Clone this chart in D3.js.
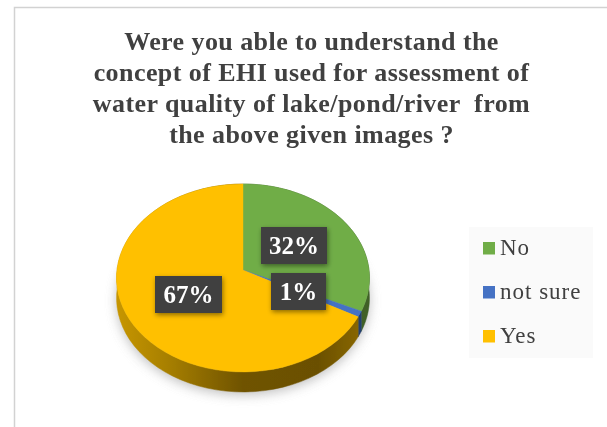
<!DOCTYPE html>
<html><head><meta charset="utf-8">
<script src="https://cdn.jsdelivr.net/npm/d3@7"></script>
<style>html,body{margin:0;background:#fff}svg{display:block}text{font-family:"Liberation Serif",serif}</style>
</head><body><svg id="c" width="607" height="427"></svg>
<script>
const categories = ["No", "not sure", "Yes"];
const values = [32, 1, 67];
const labels = ["32%", "1%", "67%"];
const colors = ["#70ad47", "#4472c4", "#ffc000"];
const titleLines = ["Were you able to understand the", "concept of EHI used for assessment of", "water quality of lake/pond/river  from", "the above given images ?"];

const svg = d3.select("#c");
const defs = svg.append("defs");
defs.append("filter").attr("id","soft").attr("x","-20%").attr("y","-20%").attr("width","140%").attr("height","140%")
  .append("feGaussianBlur").attr("stdDeviation",0.6);
const sh = defs.append("filter").attr("id","shadow").attr("x","-30%").attr("y","-30%").attr("width","160%").attr("height","160%");
sh.append("feGaussianBlur").attr("stdDeviation",6);
const bs = defs.append("filter").attr("id","boxshadow").attr("x","-30%").attr("y","-30%").attr("width","160%").attr("height","160%");
bs.append("feDropShadow").attr("dx",1).attr("dy",2).attr("stdDeviation",2.5).attr("flood-color","#000").attr("flood-opacity",0.45);
const g1 = defs.append("linearGradient").attr("id","sideYes").attr("gradientUnits","userSpaceOnUse")
  .attr("x1",116).attr("x2",369).attr("y1",0).attr("y2",0);
[[0,"#c79600"],[0.2,"#a88000"],[0.5,"#6f5300"],[0.8,"#6b5000"],[1,"#8f6c00"]].forEach(s=>g1.append("stop").attr("offset",s[0]).attr("stop-color",s[1]));
const sideFill = ["#3f6128","#24406f","url(#sideYes)"];

// frame
svg.append("path").attr("d","M14.5,427V7.5H607").attr("fill","none").attr("stroke","#d2d2d2").attr("stroke-width",1.5);

const root = svg.append("g").attr("filter","url(#soft)");

// title
root.append("g").selectAll("text").data(titleLines).join("text")
  .attr("x",311.5).attr("y",(d,i)=>50+i*31).attr("text-anchor","middle")
  .attr("font-size",26).attr("letter-spacing",0.43).attr("font-weight","bold").attr("fill","#404040").attr("xml:space","preserve").text(d=>d);

// tilted-disc projection
const cx=243, cy=270, A=126, B=93.3, k=0.085, depth=20;
const project = (a,r=1)=>{const u=r*Math.sin(a), v=-r*Math.cos(a), w=1-k*v; return [cx+A*u/w, cy+B*v/w];};
const line = d3.line();
const arcs = d3.pie().sort(null).value(d=>d)(values);
const sample = (a0,a1)=>d3.range(0,61).map(i=>project(a0+(a1-a0)*i/60));

// soft shadow under the disc
root.append("path").attr("d",line(sample(0,2*Math.PI).map(p=>[p[0],p[1]+depth+3]))+"Z")
  .attr("fill","#8a8a8a").attr("opacity",0.55).attr("filter","url(#shadow)");

// side walls
root.append("g").selectAll("path").data(arcs).join("path")
  .attr("d",d=>{const pts=sample(d.startAngle,d.endAngle);
    return line(pts.concat(pts.slice().reverse().map(p=>[p[0],p[1]+depth])))+"Z";})
  .attr("fill",(d,i)=>sideFill[i]).attr("stroke",(d,i)=>sideFill[i]).attr("stroke-width",0.5);

// top face
root.append("g").selectAll("path").data(arcs).join("path")
  .attr("d",d=>line([[cx,cy]].concat(sample(d.startAngle,d.endAngle)))+"Z")
  .attr("fill",(d,i)=>colors[i]).attr("stroke",(d,i)=>colors[i]).attr("stroke-width",0.4);

// data label boxes
const boxW=[66,55,67], boxH=37, boxX=[261,271,155], boxY=[227,273,276];
const lb = root.append("g").selectAll("g").data(labels).join("g");
lb.append("rect").attr("x",(d,i)=>boxX[i]).attr("y",(d,i)=>boxY[i]).attr("width",(d,i)=>boxW[i]).attr("height",boxH)
  .attr("fill","#404040").attr("filter","url(#boxshadow)");
lb.append("text").attr("x",(d,i)=>boxX[i]+boxW[i]/2).attr("y",(d,i)=>boxY[i]+27)
  .attr("text-anchor","middle").attr("font-size",25).attr("font-weight","bold").attr("fill","#fff").text(d=>d);

// legend
root.append("rect").attr("x",469).attr("y",227).attr("width",124).attr("height",131).attr("fill","#fafafa");
const ly = d3.scalePoint().domain(categories).range([255,343]);
const lg = root.append("g").selectAll("g").data(categories).join("g");
lg.append("rect").attr("x",483).attr("y",d=>ly(d)-13).attr("width",12).attr("height",12.5).attr("fill",(d,i)=>colors[i]);
lg.append("text").attr("x",500).attr("y",d=>ly(d)).attr("font-size",23).attr("letter-spacing",1).attr("fill","#404040").text(d=>d);
</script></body></html>
